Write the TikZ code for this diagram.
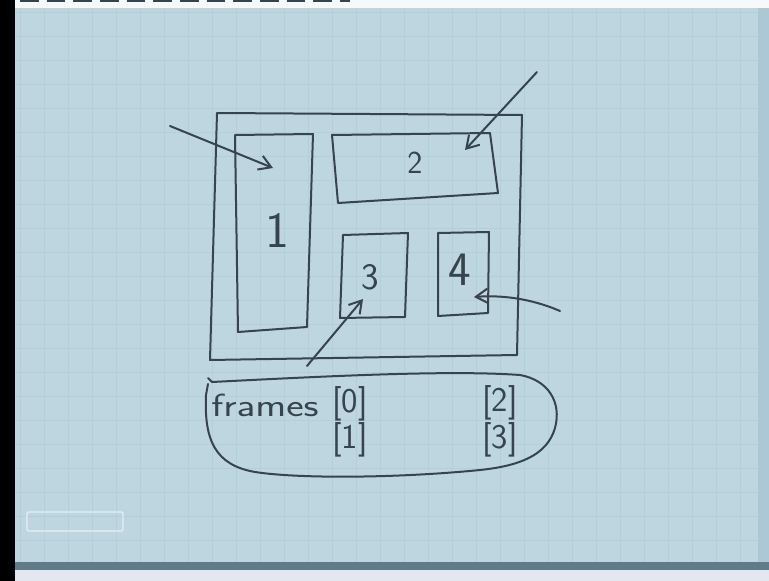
\documentclass[tikz,border=0pt]{standalone}
\usetikzlibrary{arrows.meta}
\definecolor{paper}{RGB}{189,214,223}
\definecolor{paperdk}{RGB}{172,200,213}
\definecolor{gridc}{RGB}{181,207,217}
\definecolor{inkc}{RGB}{55,68,78}
\definecolor{stripdk}{RGB}{96,124,138}
\definecolor{stripwh}{RGB}{228,230,240}
\begin{document}
\begin{tikzpicture}[x=0.75pt,y=-0.75pt,
  ink/.style={draw=inkc, line width=1.5pt, line join=round, line cap=round},
  arr/.style={ink, -{Straight Barb[length=9pt,width=11pt]}},
  lab/.style={text=inkc, font=\sffamily, inner sep=0pt}]
% paper and photo edges
\fill[paper] (0,0) rectangle (769,581);
\foreach \i in {0,...,31} {\draw[gridc, line width=0.4pt] (20+24*\i,8) -- (20+24*\i,562);}
\foreach \j in {0,...,22} {\draw[gridc, line width=0.4pt] (15,12+24*\j) -- (758,12+24*\j);}
\fill[paperdk] (758,8) rectangle (769,562);
\fill[white!85!paper] (15,0) rectangle (769,8);
\draw[inkc, line width=1.5pt, dash pattern=on 14pt off 6pt] (20,1) -- (350,1);
\fill[stripdk] (15,562) rectangle (769,570);
\fill[stripwh] (15,570) rectangle (769,581);
\fill[black] (0,0) rectangle (15,581);
\draw[white!60!paper, line width=1pt, rounded corners=1pt] (27,512) rectangle (123,531);
% outer frame
\draw[ink] (217,113) -- (522,115) -- (517,355) -- (210,360) -- cycle;
% boxes
\draw[ink] (235,135) -- (313,134) -- (307,327) -- (238,332) -- cycle;
\draw[ink] (332,135) -- (490,133) -- (498,193) -- (338,203) -- cycle;
\draw[ink] (343,235) -- (408,233) -- (405,317) -- (340,318) -- cycle;
\draw[ink] (438,233) -- (489,232) -- (488,313) -- (438,316) -- cycle;
% labels
\node[lab, font=\sffamily\fontsize{38}{38}\selectfont] (l1) at (277,230) {1};
\node[lab, font=\sffamily\fontsize{24}{24}\selectfont] (l2) at (415,163) {2};
\node[lab, font=\sffamily\fontsize{28}{28}\selectfont] (l3) at (370,277) {3};
\node[lab, font=\sffamily\fontsize{36}{36}\selectfont] (l4) at (460,270) {4};
% arrows
\coordinate (s1) at (170,126); \coordinate (t1) at (273,168);
\coordinate (s2) at (537,72);  \coordinate (t2) at (465,150);
\coordinate (s3) at (307,366); \coordinate (t3) at (363,299);
\coordinate (s4) at (560,311); \coordinate (t4) at (474,297);
\draw[arr] (s1) -- (t1);
\draw[arr] (s2) -- (t2);
\draw[arr] (s3) -- (t3);
\draw[arr] (s4) .. controls (530,298) and (500,295) .. (t4);
% bottom loop
\draw[ink] (208,378) -- (212,382) .. controls (330,376) and (450,370) .. (520,375)
  .. controls (548,380) and (562,402) .. (555,428)
  .. controls (547,456) and (518,466) .. (480,470)
  .. controls (400,478) and (300,479) .. (255,472)
  .. controls (215,465) and (204,440) .. (206,395) -- (208,384);
% texts
\node[lab, font=\sffamily\fontsize{24}{24}\selectfont, xscale=1.3] (fr) at (265,405) {frames};
\node[lab, font=\sffamily\fontsize{26}{26}\selectfont] (f0) at (350,404) {[0]};
\node[lab, font=\sffamily\fontsize{26}{26}\selectfont] (f1) at (350,440) {[1]};
\node[lab, font=\sffamily\fontsize{26}{26}\selectfont] (f2) at (500,403) {[2]};
\node[lab, font=\sffamily\fontsize{26}{26}\selectfont] (f3) at (500,440) {[3]};
\end{tikzpicture}
\end{document}
